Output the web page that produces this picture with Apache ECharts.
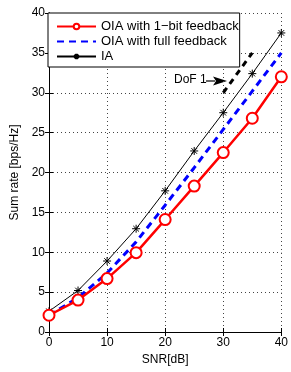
<!DOCTYPE html>
<html>
<head>
<meta charset="utf-8">
<script src="https://cdn.jsdelivr.net/npm/echarts@6/dist/echarts.min.js"></script>
<style>
  html, body { margin: 0; padding: 0; background: #fff; }
  #chart { width: 291px; height: 372px; }
</style>
</head>
<body>
<div id="chart"></div>
<script>
// SNR in dB
const snr = [0, 5, 10, 15, 20, 25, 30, 35, 40];
// sum rates
const oia1bit = [2.1, 4.0, 6.7, 9.95, 14.1, 18.3, 22.5, 26.8, 32.0];
const oiaFull = [2.1, 4.3, 7.4, 11.3, 15.9, 20.6, 25.4, 30.2, 35.0];
const ia = [2.6, 5.2, 8.9, 12.95, 17.7, 22.7, 27.5, 32.4, 37.5];
// DoF 1 reference slope
const dofLine = [[30, 30], [35, 35]];

const font = 'Liberation Sans, Arial, Helvetica, sans-serif';
const pair = (xs, ys) => xs.map((x, i) => [x, ys[i]]);

// asterisk marker, like matlab '*'
const star = 'path://M0,-1L0,1M-1,0L1,0M-0.7,-0.7L0.7,0.7M-0.7,0.7L0.7,-0.7';

const chart = echarts.init(document.getElementById('chart'));

const gridStyle = { show: true, lineStyle: { color: '#444', width: 1, type: [1, 3] } };
const tick = { show: true, inside: true, length: 4, lineStyle: { color: '#000' } };

chart.setOption({
  animation: false,
  textStyle: { fontFamily: font },
  grid: { left: 49, right: 5, top: 13, bottom: 40 },
  legend: {
    left: 48, top: 13,
    orient: 'vertical',
    backgroundColor: '#fff',
    borderColor: '#000', borderWidth: 1, borderRadius: 0,
    padding: [7, 1, 4, 8],
    itemWidth: 39, itemHeight: 7, itemGap: 2, itemTextGap: 5,
    textStyle: { fontSize: 13, color: '#000', fontFamily: font },
    data: [
      { name: 'OIA with 1\u2212bit feedback' },
      // no marker on the dashed curve
      { name: 'OIA with full feedback', itemStyle: { color: 'transparent', borderColor: 'transparent', borderWidth: 0 } },
      { name: 'IA' }
    ]
  },
  xAxis: [{
    type: 'value', min: 0, max: 40, interval: 10,
    name: 'SNR[dB]', nameLocation: 'middle', nameGap: 20,
    nameTextStyle: { fontSize: 12, color: '#000' },
    axisLine: { show: true, lineStyle: { color: '#000' } },
    axisTick: tick,
    axisLabel: { fontSize: 12, color: '#000', margin: 5 },
    splitLine: gridStyle
  }, {
    type: 'value', min: 0, max: 40, interval: 10, position: 'top',
    axisLine: { show: true, lineStyle: { color: '#000' } },
    axisTick: tick, axisLabel: { show: false }, splitLine: { show: false }
  }],
  yAxis: [{
    type: 'value', min: 0, max: 40, interval: 5,
    name: 'Sum rate [bps/Hz]', nameLocation: 'middle', nameGap: 27,
    nameTextStyle: { fontSize: 12, color: '#000' },
    axisLine: { show: true, lineStyle: { color: '#000' } },
    axisTick: tick,
    axisLabel: { fontSize: 12, color: '#000', margin: 4 },
    splitLine: gridStyle
  }, {
    type: 'value', min: 0, max: 40, interval: 5, position: 'right',
    axisLine: { show: true, lineStyle: { color: '#000' } },
    axisTick: tick, axisLabel: { show: false }, splitLine: { show: false }
  }],
  series: [
    {
      name: 'DoF 1', type: 'line', data: dofLine,
      symbol: 'none',
      lineStyle: { color: '#000', width: 3, type: [6, 5] },
      z: 1
    },
    {
      name: 'IA', type: 'line', data: pair(snr, ia),
      symbol: star, symbolSize: 8,
      itemStyle: { color: '#000', borderColor: '#000', borderWidth: 1 },
      lineStyle: { color: '#000', width: 1 },
      z: 2
    },
    {
      name: 'OIA with full feedback', type: 'line', data: pair(snr, oiaFull),
      symbol: 'none',
      itemStyle: { color: '#0000ff' },
      lineStyle: { color: '#0000ff', width: 3, type: [7, 5] },
      z: 3
    },
    {
      name: 'OIA with 1\u2212bit feedback', type: 'line', data: pair(snr, oia1bit),
      symbol: 'circle', symbolSize: 11,
      itemStyle: { color: '#fff', borderColor: '#ff0000', borderWidth: 2 },
      lineStyle: { color: '#ff0000', width: 2.5 },
      z: 4
    }
  ],
  graphic: [
    {
      type: 'text', left: 174, top: 74,
      style: { text: 'DoF 1', font: '12px ' + font, fill: '#000' }
    },
    {
      type: 'line',
      shape: { x1: 206, y1: 81, x2: 215, y2: 81 },
      style: { stroke: '#000', lineWidth: 1.2 }
    },
    {
      type: 'polygon',
      shape: { points: [[213, 76.5], [227, 81], [213, 85.5], [216, 81]] },
      style: { fill: '#000' }
    }
  ]
});
</script>
</body>
</html>
